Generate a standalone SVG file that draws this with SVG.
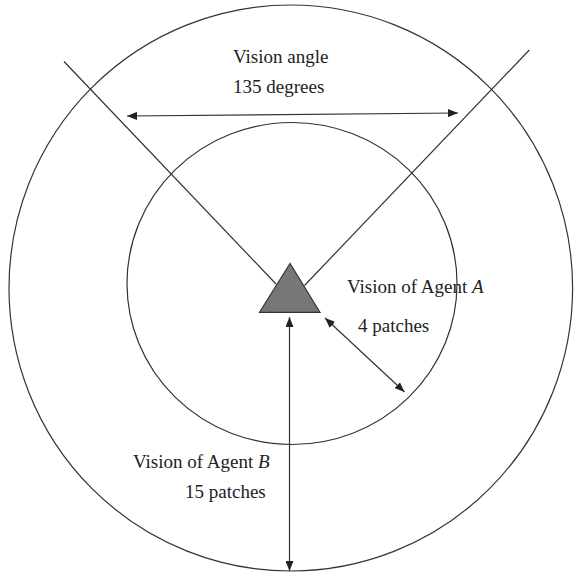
<svg xmlns="http://www.w3.org/2000/svg" width="575" height="575" viewBox="0 0 575 575">
<defs>
<style>
.ln{stroke:#333;stroke-width:1.2;fill:none}
.t{font-family:"Liberation Serif","Times New Roman",serif;font-size:19px;fill:#222}
</style>
<marker id="ah" viewBox="0 0 10 8" refX="10" refY="4" markerWidth="10" markerHeight="8" markerUnits="userSpaceOnUse" orient="auto-start-reverse">
<path d="M0,0 L10,4 L0,8 Z" fill="#222"/>
</marker>
</defs>
<rect width="575" height="575" fill="#fff"/>
<g id="outer-circle"><ellipse class="ln" cx="290.8" cy="288" rx="281.8" ry="283"/></g>
<g id="inner-circle"><ellipse class="ln" cx="292" cy="283.5" rx="165" ry="161"/></g>
<g id="vision-lines">
<line class="ln" x1="64" y1="61.5" x2="276" y2="284"/>
<line class="ln" x1="529.3" y1="50" x2="304.5" y2="285.5"/>
</g>
<g id="agent"><polygon points="290,263.5 259.5,312.3 320,312.3" fill="#777" stroke="#333" stroke-width="1.2"/></g>
<g id="connectors">
<line class="ln" x1="127" y1="116" x2="458" y2="113" marker-start="url(#ah)" marker-end="url(#ah)"/>
<line class="ln" x1="289.5" y1="317" x2="289.5" y2="571" marker-start="url(#ah)" marker-end="url(#ah)"/>
<line class="ln" x1="325" y1="318" x2="404.5" y2="392" marker-start="url(#ah)" marker-end="url(#ah)"/>
</g>
<g id="labels">
<text class="t" x="233" y="63">Vision angle</text>
<text class="t" x="233" y="93">135 degrees</text>
<text class="t" x="347" y="293">Vision of Agent <tspan font-style="italic">A</tspan></text>
<text class="t" x="358" y="332">4 patches</text>
<text class="t" x="133" y="468">Vision of Agent <tspan font-style="italic">B</tspan></text>
<text class="t" x="185" y="498">15 patches</text>
</g>
</svg>
